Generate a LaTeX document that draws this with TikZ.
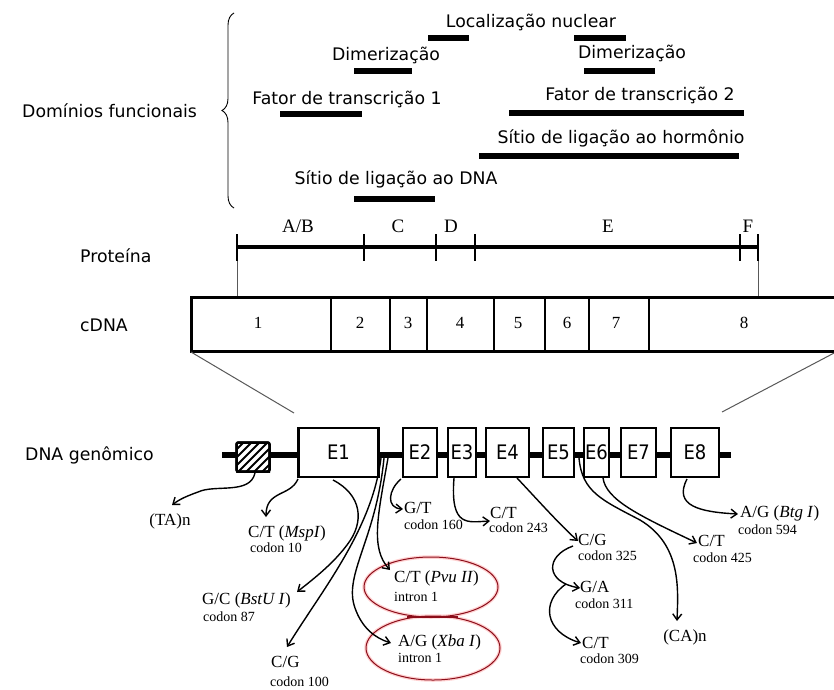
\documentclass[tikz,border=0pt]{standalone}
\usepackage{fontspec}
\setmainfont{Liberation Serif}
\newfontfamily\sff{DejaVu Sans}
\newfontfamily\sffc[FakeStretch=0.9]{DejaVu Sans}
\usetikzlibrary{arrows.meta,decorations.pathreplacing}
\definecolor{ellred}{rgb}{0.55,0.05,0.1}
\tikzset{
  sfl/.style={font=\sff\fontsize{17.3}{20}\selectfont, inner sep=0pt},
  dbar/.style={line width=6pt},
  serl/.style={font=\fontsize{19}{21}\selectfont, inner sep=0pt},
  digit/.style={font=\fontsize{17}{19}\selectfont, inner sep=0pt},
  mut/.style={font=\fontsize{17}{19}\selectfont, inner sep=0pt, anchor=west},
  cod/.style={font=\fontsize{14}{15}\selectfont, inner sep=0pt, anchor=west},
  arr/.style={line width=1.4pt, -{Straight Barb[length=6pt,width=9pt,line width=1.4pt]}},
  exon/.style={draw, line width=2.5pt, fill=white, minimum height=49pt, inner sep=0pt,
    font=\sffc\fontsize{20}{21}\selectfont},
  thinl/.style={line width=1pt, draw=black!65},
  ell/.style={draw=ellred, line width=1pt},
  ellglow/.style={draw=red!18, line width=3.5pt},
}
\begin{document}
\begin{tikzpicture}[x=1pt,y=-1pt]
\useasboundingbox (0,0) rectangle (834,689);
\clip (0,0) rectangle (834,689);
\fill[white] (0,0) rectangle (834,689);

% ---------- functional domains ----------
\node[sfl, anchor=west] (dom) at (22,111) {Domínios funcionais};
\draw[line width=0.9pt, decorate, decoration={brace, amplitude=12pt}] (234,208) -- (234,13);

\node[sfl] (locn) at (531,22) {Localização nuclear};
\draw[dbar] (428,38) -- (469,38);
\draw[dbar] (574,38) -- (626,38);
\node[sfl] (dim1) at (386,55) {Dimerização};
\draw[dbar] (354,71) -- (412,71);
\node[sfl] (dim2) at (632,53) {Dimerização};
\draw[dbar] (584,71) -- (655,71);
\node[sfl] (ft1) at (347,99) {Fator de transcrição 1};
\draw[dbar] (280,114) -- (362,114);
\node[sfl] (ft2) at (640,95) {Fator de transcrição 2};
\draw[dbar] (509,113) -- (744,113);
\node[sfl] (hor) at (621,138) {Sítio de ligação ao hormônio};
\draw[dbar] (479,156) -- (739,156);
\node[sfl] (dnab) at (396,179) {Sítio de ligação ao DNA};
\draw[dbar] (354,199) -- (435,199);

% ---------- protein ----------
\node[sfl, anchor=west] (prot) at (80,256) {Proteína};
\draw[line width=4.5pt] (237,247) -- (758,247);
\foreach \x in {237,364,436,475,740,758}
  \draw[line width=2pt] (\x,234) -- (\x,261);
\node[serl] (ab) at (298,226) {A/B};
\node[serl] (dc) at (398,226) {C};
\node[serl] (dd) at (451,226) {D};
\node[serl] (de) at (608,226) {E};
\node[serl] (df) at (748,226) {F};
\draw[thinl] (237,261) -- (237,297);
\draw[thinl] (758,261) -- (758,297);

% ---------- cDNA ----------
\node[sfl, anchor=west] (cdna) at (80,325) {cDNA};
\draw[line width=3pt] (191,297) rectangle (850,351);
\foreach \x in {331,390,427,494,545,589,649}
  \draw[line width=2.5pt] (\x,297) -- (\x,351);
\node[digit] (c1) at (258,323) {1};
\node[digit] (c2) at (360,323) {2};
\node[digit] (c3) at (408,323) {3};
\node[digit] (c4) at (460,323) {4};
\node[digit] (c5) at (518,323) {5};
\node[digit] (c6) at (567,323) {6};
\node[digit] (c7) at (616,323) {7};
\node[digit] (c8) at (744,323) {8};
\draw[thinl] (191,352) -- (294,413);
\draw[thinl] (836,352) -- (722,412);

% ---------- genomic DNA ----------
\node[sfl, anchor=west] (gdna) at (25,455) {DNA genômico};
\draw[line width=6pt] (222,455) -- (731,455);
\node[draw, line width=2.5pt, minimum width=33pt, minimum height=29pt, rounded corners=2pt, fill=white, inner sep=0pt] (hb) at (253,457) {};
\begin{scope}
  \clip (236,442) rectangle (270,472);
  \foreach \i in {-48,-40,...,48}
    \draw[line width=2pt] ({253+\i-20},477) -- ({253+\i+20},437);
\end{scope}
\draw[line width=2.5pt, rounded corners=2pt] (236.5,442.5) rectangle (269.5,471.5);

\node[exon, minimum width=80pt] (e1) at (338.5,452.5) {E1};
\node[exon, minimum width=34pt] (e2) at (420,452.5) {E2};
\node[exon, minimum width=28pt] (e3) at (462,452.5) {E3};
\node[exon, minimum width=43pt] (e4) at (507.5,452.5) {E4};
\node[exon, minimum width=31pt] (e5) at (558.5,452.5) {E5};
\node[exon, minimum width=25pt] (e6) at (596.5,452.5) {E6};
\node[exon, minimum width=35pt] (e7) at (638.5,452.5) {E7};
\node[exon, minimum width=48pt] (e8) at (695,452.5) {E8};

% ---------- labels ----------
\node[font=\fontsize{17}{19}\selectfont, inner sep=0pt] (tan) at (170,521) {(TA)n};
\node[mut] (l1) at (248,533) {C/T (\textit{MspI})};
\node[cod] (l1c) at (250,548) {codon 10};
\node[mut] (l2) at (202,600) {G/C (\textit{BstU I})};
\node[cod] (l2c) at (203,617) {codon 87};
\node[mut] (l3) at (271,662) {C/G};
\node[cod] (l3c) at (270,682) {codon 100};
\node[mut] (l4) at (394,578) {C/T (\textit{Pvu II})};
\node[cod] (l4c) at (394,597) {intron 1};
\node[mut] (l5) at (398,642) {A/G (\textit{Xba I})};
\node[cod] (l5c) at (398,658) {intron 1};
\node[mut] (l6) at (404,508) {G/T};
\node[cod] (l6c) at (404,525) {codon 160};
\node[mut] (l7) at (490,513) {C/T};
\node[cod] (l7c) at (489,528) {codon 243};
\node[mut] (l8) at (578,540) {C/G};
\node[cod] (l8c) at (578,556) {codon 325};
\node[mut] (l9) at (580,587) {G/A};
\node[cod] (l9c) at (575,604) {codon 311};
\node[mut] (l10) at (582,643) {C/T};
\node[cod] (l10c) at (580,659) {codon 309};
\node[font=\fontsize{17}{19}\selectfont, inner sep=0pt] (can) at (685,637) {(CA)n};
\node[mut] (l11) at (698,541) {C/T};
\node[cod] (l11c) at (693,558) {codon 425};
\node[mut] (l12) at (740,513) {A/G (\textit{Btg I})};
\node[cod] (l12c) at (738,530) {codon 594};

% ---------- ellipses ----------
\draw[ellglow] (431,587) ellipse (67 and 30);
\draw[ellglow] (433,648) ellipse (67 and 32);
\draw[ell] (431,587) ellipse (67 and 30);
\draw[ell] (433,648) ellipse (67 and 32);
\draw[ellred, line width=2.2pt] (407,617) -- (458,617);

% ---------- arrow coordinates ----------
\coordinate (sTA) at (255,473);   \coordinate (tTA) at (172,505);
\coordinate (sMs) at (298,479);   \coordinate (tMs) at (266,517);
\coordinate (sBs) at (333,480);   \coordinate (tBs) at (297,592);
\coordinate (sCG) at (381,458);   \coordinate (tCG) at (287,647);
\coordinate (sPv) at (388,458);   \coordinate (tPv) at (390,570);
\coordinate (sXb) at (384,458);   \coordinate (tXb) at (391,643);
\coordinate (sGT) at (401,479);   \coordinate (tGT) at (403,509);
\coordinate (s243) at (454,478);  \coordinate (t243) at (490,521);
\coordinate (s325) at (517,478);  \coordinate (t325) at (578,541);
\coordinate (s311) at (573,546);  \coordinate (t311) at (580,588);
\coordinate (s309) at (566,584);  \coordinate (t309) at (581,643);
\coordinate (sCA) at (579,458);   \coordinate (tCA) at (677,621);
\coordinate (s425) at (603,478);  \coordinate (t425) at (697,543);
\coordinate (s594) at (687,479);  \coordinate (t594) at (738,514);

\draw[arr] (sTA) .. controls (250,495) and (215,484) .. (198,492) .. controls (187,496) and (180,499) .. (tTA);
\draw[arr] (sMs) .. controls (290,497) and (266,490) .. (tMs);
\draw[arr] (sBs) .. controls (362,495) and (365,522) .. (347,545) .. controls (332,565) and (312,580) .. (tBs);
\draw[arr] (sCG) .. controls (372,530) and (322,590) .. (tCG);
\draw[arr] (sPv) .. controls (378,515) and (370,548) .. (tPv);
\draw[arr] (sXb) .. controls (376,540) and (343,575) .. (355,608) .. controls (362,628) and (375,638) .. (tXb);
\draw[arr] (sGT) .. controls (388,490) and (386,508) .. (tGT);
\draw[arr] (s243) .. controls (450,528) and (468,522) .. (t243);
\draw[arr] (s325) .. controls (535,497) and (560,525) .. (t325);
\draw[arr] (s311) .. controls (545,556) and (545,582) .. (t311);
\draw[arr] (s309) .. controls (540,602) and (545,632) .. (t309);
\draw[arr] (sCA) .. controls (582,492) and (602,500) .. (640,520) .. controls (682,545) and (678,590) .. (tCA);
\draw[arr] (s425) .. controls (606,500) and (640,516) .. (t425);
\draw[arr] (s594) .. controls (673,506) and (700,512) .. (t594);
\end{tikzpicture}
\end{document}
